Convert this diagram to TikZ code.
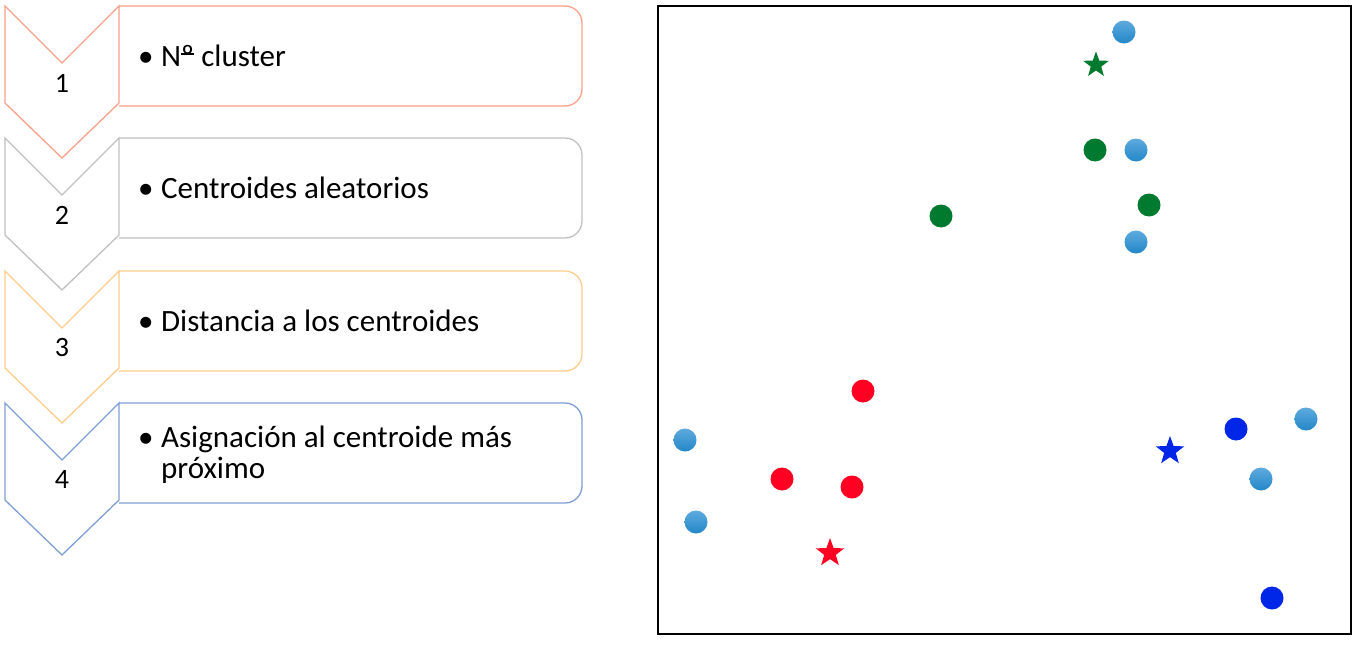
\documentclass[tikz,border=0pt]{standalone}
\usepackage{fontspec}
\setmainfont{Carlito}
\usetikzlibrary{shapes.geometric}
\definecolor{cA}{HTML}{F7A08A}
\definecolor{cB}{HTML}{C0C0C0}
\definecolor{cC}{HTML}{FFCC8C}
\definecolor{cD}{HTML}{7F9ED4}
\definecolor{dred}{HTML}{FF0022}
\definecolor{dgreen}{HTML}{007A2E}
\definecolor{dblue}{HTML}{0026E8}
\definecolor{ltop}{HTML}{5EAADD}
\definecolor{lbot}{HTML}{2387C8}
\tikzset{
  chev/.style={line width=1.3pt},
  numlbl/.style={font=\fontsize{28}{30}\selectfont, anchor=base, inner sep=0},
  itemlbl/.style={font=\fontsize{31}{33}\selectfont, anchor=base west, inner sep=0},
  dot/.style={circle, inner sep=0, minimum size=23pt, draw=none},
  ldot/.style={dot, top color=ltop, bottom color=lbot},
  cstar/.style={star, star points=5, star point ratio=2.45, inner sep=0, minimum size=30pt, draw=none},
}
\newcommand{\chevbox}[2]{%
  \draw[chev,#2] (5,#1) -- (62,#1+57) -- (119,#1) -- (119,#1+97) -- (62,#1+152) -- (5,#1+97) -- cycle;
  \draw[chev,#2,rounded corners=17pt] (119,#1) -- (582,#1) -- (582,#1+100) -- (119,#1+100);
}
\newcommand{\ordo}{{\setbox0\hbox{º}\rlap{\rule[0.36em]{\wd0}{0.055em}}\box0}}
\begin{document}
\begin{tikzpicture}[x=1pt,y=-1pt]
\useasboundingbox (0,0) rectangle (1357,645);
% chevron list
\chevbox{6}{cA}
\chevbox{138}{cB}
\chevbox{271}{cC}
\chevbox{403}{cD}
\node[numlbl] (n1) at (62,92) {1};
\node[numlbl] (n2) at (62,224) {2};
\node[numlbl] (n3) at (62,356) {3};
\node[numlbl] (n4) at (62,488) {4};
\node[itemlbl] (t1) at (138,66) {\makebox[23pt][l]{•}N\ordo{} cluster};
\node[itemlbl] (t2) at (138,198) {\makebox[23pt][l]{•}Centroides aleatorios};
\node[itemlbl] (t3) at (138,331) {\makebox[23pt][l]{•}Distancia a los centroides};
\node[itemlbl] (t4) at (138,447) {\makebox[23pt][l]{•}Asignación al centroide más};
\node[itemlbl] (t4b) at (161,478) {próximo};
% scatter frame
\draw[line width=1.4pt] (658,6) rectangle (1351,634);
% light blue points
\node[ldot] (l1) at (1124,32) {};
\node[ldot] (l2) at (1136,150) {};
\node[ldot] (l3) at (1136,242) {};
\node[ldot] (l4) at (685,440) {};
\node[ldot] (l5) at (696,522) {};
\node[ldot] (l6) at (1306,419) {};
\node[ldot] (l7) at (1261,479) {};
% green cluster
\node[dot,fill=dgreen] (g1) at (1095,150) {};
\node[dot,fill=dgreen] (g2) at (1149,205) {};
\node[dot,fill=dgreen] (g3) at (941,216) {};
\node[cstar,fill=dgreen,minimum size=27pt] (gs) at (1096,65) {};
% red cluster
\node[dot,fill=dred] (r1) at (863,391) {};
\node[dot,fill=dred] (r2) at (782,479) {};
\node[dot,fill=dred] (r3) at (852,487) {};
\node[cstar,fill=dred] (rs) at (830,553) {};
% blue cluster
\node[dot,fill=dblue] (b1) at (1236,429) {};
\node[dot,fill=dblue] (b2) at (1272,598) {};
\node[cstar,fill=dblue] (bs) at (1170,451) {};
\end{tikzpicture}
\end{document}
